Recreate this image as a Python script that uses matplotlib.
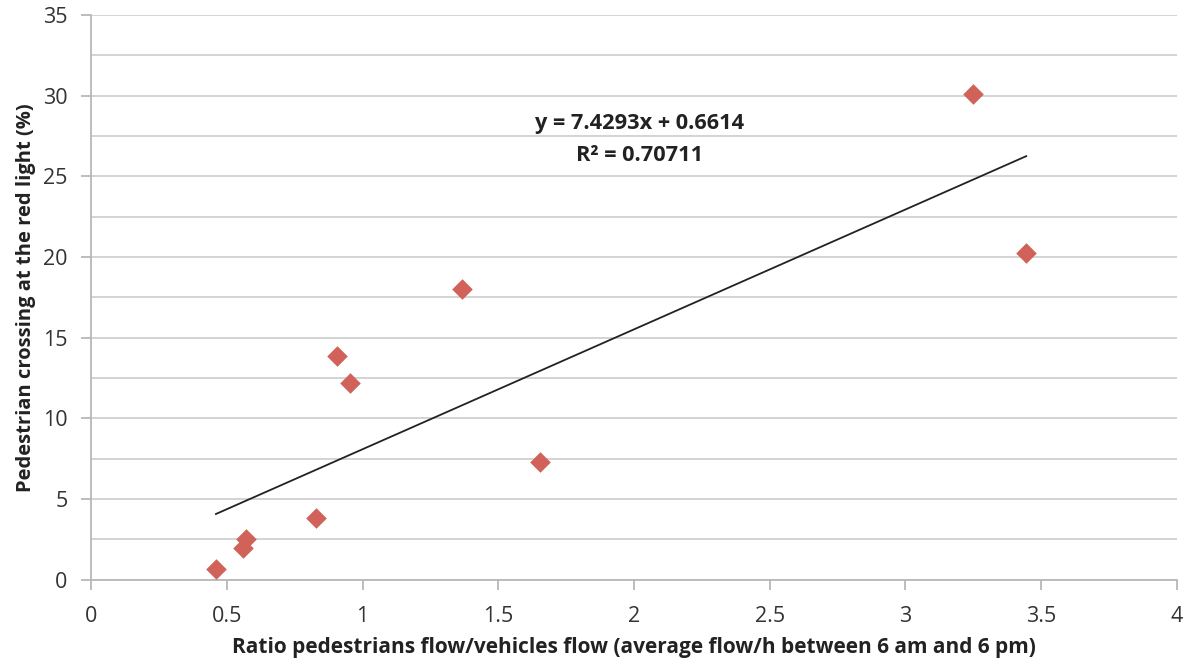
import matplotlib
matplotlib.use("Agg")
import matplotlib.pyplot as plt
import numpy as np

ratio = [0.46, 0.56, 0.57, 0.83, 0.905, 0.955, 1.365, 1.655, 3.25, 3.445]
crossing = [0.65, 1.95, 2.5, 3.85, 13.85, 12.2, 18.0, 7.3, 30.1, 20.25]
slope, intercept = 7.4293, 0.6614
eq_text = "y = 7.4293x + 0.6614"
r2_text = "R² = 0.70711"
x_ticks = [0, 0.5, 1, 1.5, 2, 2.5, 3, 3.5, 4]
x_tick_labels = ["0", "0.5", "1", "1.5", "2", "2.5", "3", "3.5", "4"]
y_ticks = [0, 5, 10, 15, 20, 25, 30, 35]
grid_levels = [2.5 * i for i in range(15)]

plt.rcParams['font.family'] = ['Open Sans', 'DejaVu Sans']

fig = plt.figure(figsize=(11.9, 6.68), dpi=100)
ax = fig.add_axes([0.0765, 0.132, 0.9125, 0.8455])

grey = '#b8b8b8'
for g in grid_levels:
    ax.axhline(g, color='#d0d0d0', lw=1.3, zorder=0)

xs = np.array([min(ratio), max(ratio)])
ax.plot(xs, slope * xs + intercept, color='#222222', lw=1.3, zorder=2)
ax.scatter(ratio, crossing, marker='D', s=110, color='#d0625a', zorder=3, linewidths=0)

ax.set_xlim(0, 4)
ax.set_ylim(0, 35)
ax.set_xticks(x_ticks)
ax.set_xticklabels(x_tick_labels)
ax.set_yticks(y_ticks)
for s in ['top', 'right']:
    ax.spines[s].set_visible(False)
for s in ['left', 'bottom']:
    ax.spines[s].set_color(grey)
    ax.spines[s].set_linewidth(1.3)
ax.tick_params(axis='both', colors=grey, length=7, width=1.3, labelsize=15.5, labelcolor='#333333')
ax.tick_params(axis='x', pad=12)
ax.tick_params(axis='y', pad=10)

ax.set_xlabel("Ratio pedestrians flow/vehicles flow (average flow/h between 6 am and 6 pm)",
              fontsize=15, fontweight='bold', color='#222222', labelpad=7)
ax.set_ylabel("Pedestrian crossing at the red light (%)", fontsize=14.5, fontweight='bold',
              color='#222222', labelpad=5)

ax.text(2.02, 28.25, eq_text, ha='center', va='center', fontsize=15.7, fontweight='bold', color='#222222')
ax.text(2.02, 26.3, r2_text, ha='center', va='center', fontsize=15.7, fontweight='bold', color='#222222')

fig.savefig("out.png", dpi=100)
